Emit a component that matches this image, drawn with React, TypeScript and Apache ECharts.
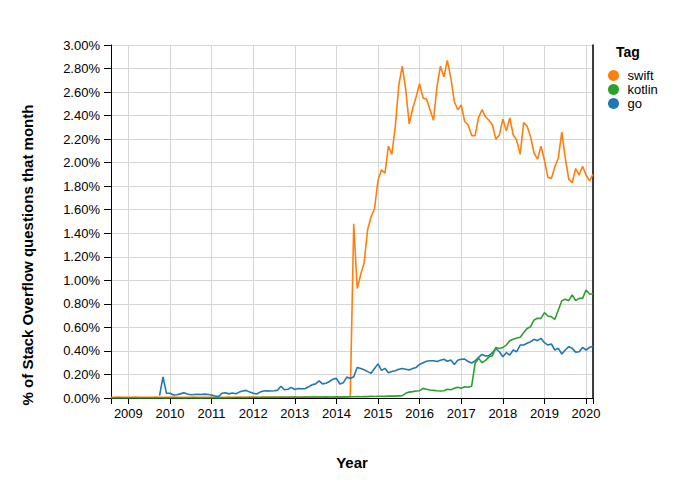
import React, { useEffect, useRef } from 'react';
import * as echarts from 'echarts';

// Monthly series start in August 2008 and end in March 2020
const START_YEAR = 2008;
const START_MONTH = 8;

const TAG_ORDER = ['swift', 'kotlin', 'go'];
const COLORS: Record<string, string> = { swift: '#ff7f0e', kotlin: '#2ca02c', go: '#1f77b4' };

// % of Stack Overflow questions that month
const swift: (number | null)[] = [
  0.004, 0.006, 0.008, 0.006, 0.005, 0.007, 0.006, 0.008, 0.005, 0.006,
  0.007, 0.006, 0.005, 0.008, 0.006, 0.007, 0.005, 0.006, 0.008, 0.007,
  0.006, 0.005, 0.007, 0.006, 0.008, 0.006, 0.005, 0.007, 0.006, 0.008,
  0.007, 0.005, 0.006, 0.007, 0.009, 0.006, 0.007, 0.008, 0.006, 0.007,
  0.009, 0.008, 0.006, 0.007, 0.008, 0.006, 0.007, 0.009, 0.007, 0.008,
  0.006, 0.007, 0.008, 0.009, 0.007, 0.008, 0.006, 0.008, 0.009, 0.007,
  0.008, 0.006, 0.007, 0.009, 0.008, 0.007, 0.008, 0.006, 0.007, 0.008,
  1.48, 0.93, 1.05, 1.15, 1.43, 1.54, 1.61, 1.85, 1.94, 1.91,
  2.14, 2.07, 2.31, 2.66, 2.82, 2.62, 2.33, 2.46, 2.56, 2.67,
  2.55, 2.54, 2.45, 2.36, 2.645, 2.82, 2.73, 2.87, 2.72, 2.52,
  2.45, 2.49, 2.35, 2.32, 2.23, 2.23, 2.385, 2.45, 2.39, 2.36,
  2.32, 2.2, 2.235, 2.37, 2.27, 2.38, 2.235, 2.19, 2.07, 2.34,
  2.31, 2.22, 2.08, 2.03, 2.14, 2.02, 1.875, 1.865, 1.965, 2.04,
  2.26, 2.04, 1.86, 1.83, 1.95, 1.895, 1.97, 1.895, 1.845, 1.9,
];

const kotlin: (number | null)[] = [
  0, 0, 0, 0, 0, 0, 0, 0, 0, 0,
  0, 0, 0, 0, 0, 0, 0, 0, 0, 0,
  0, 0, 0, 0, 0, 0, 0, 0, 0, 0,
  0, 0, 0, 0, 0, 0.002, 0.003, 0.002, 0.003, 0.004,
  0.003, 0.004, 0.005, 0.004, 0.005, 0.006, 0.005, 0.006, 0.005, 0.006,
  0.007, 0.006, 0.007, 0.008, 0.007, 0.006, 0.008, 0.007, 0.008, 0.009,
  0.008, 0.009, 0.01, 0.009, 0.008, 0.01, 0.009, 0.01, 0.011, 0.01,
  0.011, 0.012, 0.011, 0.013, 0.012, 0.014, 0.013, 0.015, 0.015, 0.014,
  0.016, 0.017, 0.016, 0.018, 0.02, 0.04, 0.05, 0.054, 0.06, 0.062,
  0.082, 0.075, 0.068, 0.065, 0.062, 0.06, 0.062, 0.074, 0.07, 0.082,
  0.091, 0.082, 0.096, 0.091, 0.1, 0.295, 0.337, 0.3, 0.32, 0.35,
  0.36, 0.43, 0.42, 0.43, 0.45, 0.487, 0.5, 0.51, 0.516, 0.555,
  0.59, 0.606, 0.663, 0.677, 0.677, 0.725, 0.697, 0.69, 0.669, 0.748,
  0.827, 0.839, 0.827, 0.875, 0.827, 0.847, 0.847, 0.918, 0.884, 0.884,
];

const go: (number | null)[] = [
  null, null, null, null, null, null, null, null, null, null,
  null, null, null, null, 0.02, 0.18, 0.04, 0.04, 0.025, 0.028,
  0.035, 0.045, 0.034, 0.028, 0.03, 0.032, 0.03, 0.033, 0.03, 0.025,
  0.017, 0.012, 0.04, 0.045, 0.035, 0.042, 0.036, 0.05, 0.06, 0.065,
  0.05, 0.04, 0.034, 0.05, 0.06, 0.062, 0.06, 0.062, 0.065, 0.1,
  0.07, 0.075, 0.09, 0.072, 0.08, 0.078, 0.08, 0.095, 0.113, 0.12,
  0.145, 0.12, 0.125, 0.14, 0.16, 0.167, 0.119, 0.13, 0.178, 0.165,
  0.18, 0.26, 0.25, 0.24, 0.224, 0.21, 0.25, 0.29, 0.235, 0.252,
  0.215, 0.225, 0.232, 0.244, 0.25, 0.245, 0.238, 0.25, 0.26, 0.285,
  0.3, 0.312, 0.317, 0.317, 0.31, 0.32, 0.329, 0.312, 0.323, 0.285,
  0.32, 0.329, 0.33, 0.31, 0.298, 0.315, 0.345, 0.37, 0.357, 0.36,
  0.385, 0.42, 0.393, 0.351, 0.385, 0.365, 0.408, 0.393, 0.45, 0.45,
  0.465, 0.478, 0.499, 0.487, 0.507, 0.47, 0.45, 0.459, 0.408, 0.422,
  0.374, 0.408, 0.436, 0.422, 0.39, 0.393, 0.43, 0.408, 0.43, 0.44,
];

const SERIES: Record<string, (number | null)[]> = { swift, kotlin, go };
// draw order (last on top)
const DRAW_ORDER = ['swift', 'go', 'kotlin'];

const Y_TITLE = '% of Stack Overflow questions that month';
const X_TITLE = 'Year';
const LEGEND_TITLE = 'Tag';

const FONT = '"Liberation Sans", Arial, Helvetica, sans-serif';

// month positions in decimal years
const months: number[] = swift.map((_, i) => START_YEAR + (START_MONTH - 1 + i) / 12);

export default function App() {
  const ref = useRef<HTMLDivElement>(null);

  useEffect(() => {
    if (!ref.current) return;
    const chart = echarts.init(ref.current, undefined, { renderer: 'svg' });
    const xMin = months[0];
    const xMax = months[months.length - 1];
    chart.setOption({
      animation: false,
      textStyle: { fontFamily: FONT },
      title: {
        text: LEGEND_TITLE,
        left: 616,
        top: 45,
        padding: 0,
        textStyle: { fontFamily: FONT, fontSize: 14, fontWeight: 'bold', color: '#000' },
      },
      legend: {
        data: TAG_ORDER,
        orient: 'vertical',
        left: 608,
        top: 69,
        padding: 0,
        icon: 'circle',
        itemWidth: 18,
        itemHeight: 11,
        itemGap: 1,
        symbolKeepAspect: true,
        textStyle: { fontFamily: FONT, fontSize: 13, lineHeight: 13, color: '#000' },
      },
      graphic: [
        {
          type: 'text',
          x: 27,
          y: 255,
          rotation: Math.PI / 2,
          style: {
            text: Y_TITLE,
            fontFamily: FONT,
            fontSize: 15,
            fontWeight: 'bold',
            fill: '#000',
            textAlign: 'center',
            textVerticalAlign: 'middle',
          },
        },
      ],
      grid: { left: 111, right: 107, top: 45, bottom: 91 },
      xAxis: {
        type: 'value',
        min: xMin,
        max: xMax,
        splitNumber: 12,
        minInterval: 1,
        maxInterval: 1,
        name: X_TITLE,
        nameLocation: 'middle',
        nameGap: 57,
        nameTextStyle: { fontFamily: FONT, fontSize: 15, fontWeight: 'bold', color: '#000' },
        axisLine: { show: true, onZero: false, lineStyle: { color: '#000', width: 1 } },
        axisTick: { show: true, length: 6, lineStyle: { color: '#000' } },
        axisLabel: {
          fontFamily: FONT,
          fontSize: 13,
          color: '#000',
          margin: 9,
          formatter: (v: number) => (Math.abs(v - Math.round(v)) < 1e-6 ? String(Math.round(v)) : ''),
        },
        splitLine: { show: true, lineStyle: { color: '#d6d6d6', width: 1 } },
      },
      yAxis: [
        {
          type: 'value',
          min: 0,
          max: 3,
          interval: 0.2,
          axisLine: { show: true, lineStyle: { color: '#000', width: 1 } },
          axisTick: { show: true, length: 7, lineStyle: { color: '#000' } },
          axisLabel: {
            fontFamily: FONT,
            fontSize: 13,
            color: '#000',
            margin: 11,
            formatter: (v: number) => v.toFixed(2) + '%',
          },
          splitLine: { show: true, lineStyle: { color: '#d6d6d6', width: 1 } },
        },
        {
          type: 'value',
          position: 'right',
          min: 0,
          max: 3,
          interval: 0.2,
          axisLine: { show: true, lineStyle: { color: '#000', width: 1.5 } },
          axisTick: { show: false },
          axisLabel: { show: false },
          splitLine: { show: false },
        },
      ],
      series: DRAW_ORDER.map((tag) => ({
        name: tag,
        type: 'line',
        yAxisIndex: 0,
        showSymbol: false,
        symbol: 'none',
        connectNulls: false,
        color: COLORS[tag],
        itemStyle: { color: COLORS[tag] },
        lineStyle: { color: COLORS[tag], width: 1.6 },
        data: months.map((m, i) => [m, SERIES[tag][i]]),
      })),
    });
    return () => chart.dispose();
  }, []);

  return (
    <div
      ref={ref}
      style={{ position: 'fixed', left: 0, top: 0, width: 700, height: 489, background: '#fff' }}
    />
  );
}
